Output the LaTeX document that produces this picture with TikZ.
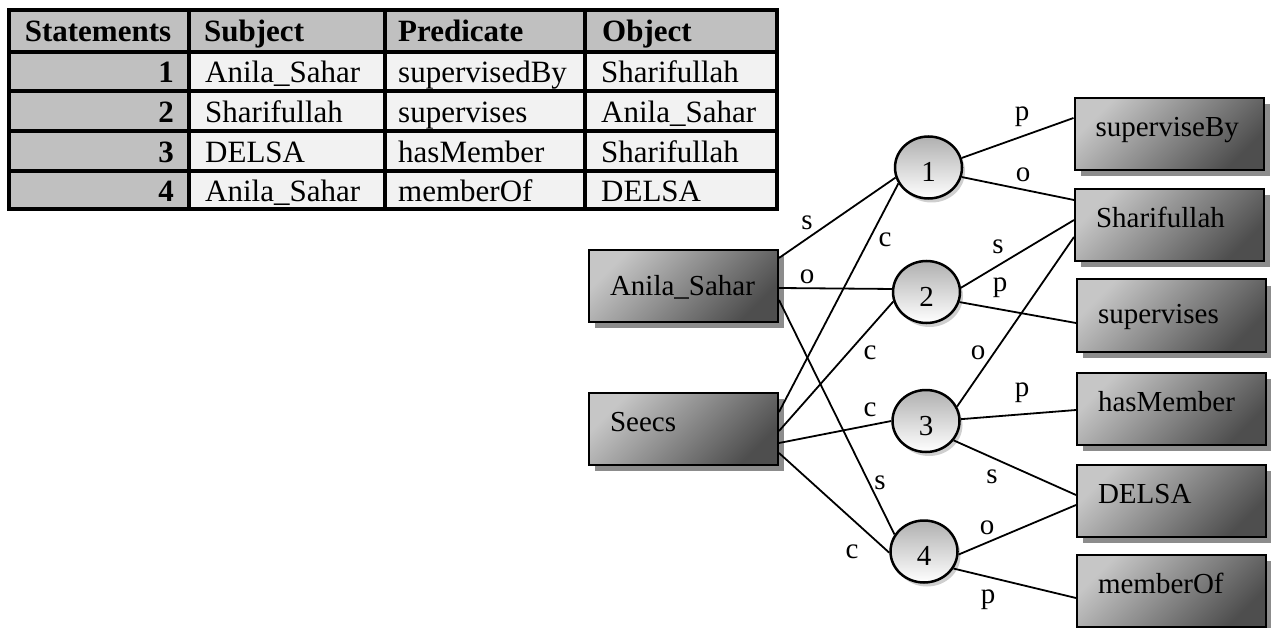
\documentclass[tikz,border=0pt]{standalone}
\usepackage{fontspec}
\setmainfont{Liberation Serif}
\usetikzlibrary{shapes.geometric,shadows}
\definecolor{hdrgray}{HTML}{C0C0C0}
\definecolor{cellgray}{HTML}{F2F2F2}
\definecolor{boxlight}{HTML}{C6C6C6}
\definecolor{boxdark}{HTML}{4E4E4E}
\definecolor{shadowgray}{HTML}{8C8C8C}
\definecolor{circtop}{HTML}{B0B0B0}
\definecolor{circshadow}{HTML}{CFCFCF}
\newcommand\tabfont{\fontsize{31}{37}\selectfont}
\newcommand\grfont{\fontsize{29}{35}\selectfont}
\begin{document}
\begin{tikzpicture}[x=1pt,y=-1pt,
 tabtext/.style={font=\tabfont, inner sep=0pt, anchor=base west},
 tabhead/.style={font=\tabfont\bfseries, inner sep=0pt, anchor=base west},
 tabnum/.style={font=\tabfont\bfseries, inner sep=0pt, anchor=base east},
 resbox/.style={draw=black, line width=2pt, font=\grfont, text width=147pt, align=left,
   inner xsep=21pt, inner ysep=0pt, minimum height=72pt, text height=18pt, text depth=14pt,
   top color=boxlight, bottom color=boxdark, shading angle=45,
   general shadow={fill=shadowgray, shadow xshift=6pt, shadow yshift=-6pt}},
 stmt/.style={ellipse, draw=black, line width=2.5pt, minimum width=67pt, minimum height=62pt,
   inner sep=0pt, font=\grfont, text height=28pt, text depth=0pt,
   top color=circtop, bottom color=white,
   general shadow={fill=circshadow, shadow xshift=3pt, shadow yshift=-4pt}},
 rel/.style={draw=black, line width=1.8pt},
 lbl/.style={font=\grfont, inner sep=0pt}
]
\useasboundingbox (0,0) rectangle (1271,628);
% ---------------- table ----------------
\fill[hdrgray] (9,10) rectangle (777,52);
\fill[hdrgray] (9,52) rectangle (189,209);
\fill[cellgray] (189,52) rectangle (777,209);
\draw[line width=4pt] (9,10) rectangle (777,209);
\foreach \yy in {52,91,131,171} \draw[line width=4pt] (9,\yy) -- (777,\yy);
\foreach \xx in {189,385,585} \draw[line width=4pt] (\xx,10) -- (\xx,209);

\node[tabhead, anchor=base] (hst) at (98,42) {Statements};
\node[tabhead] (hsu) at (204,42) {Subject};
\node[tabhead] (hpr) at (398,42) {Predicate};
\node[tabhead] (hob) at (602,42) {Object};

\node[tabnum] (n1) at (174,83) {1};
\node[tabtext] (s1) at (205,83) {Anila\_Sahar};
\node[tabtext] (p1) at (398,83) {supervisedBy};
\node[tabtext] (o1) at (601,83) {Sharifullah};

\node[tabnum] (n2) at (174,123) {2};
\node[tabtext] (s2) at (205,123) {Sharifullah};
\node[tabtext] (p2) at (398,123) {supervises};
\node[tabtext] (o2) at (601,123) {Anila\_Sahar};

\node[tabnum] (n3) at (174,163) {3};
\node[tabtext] (s3) at (205,163) {DELSA};
\node[tabtext] (p3) at (398,163) {hasMember};
\node[tabtext] (o3) at (601,163) {Sharifullah};

\node[tabnum] (n4) at (174,202) {4};
\node[tabtext] (s4) at (205,202) {Anila\_Sahar};
\node[tabtext] (p4) at (398,202) {memberOf};
\node[tabtext] (o4) at (601,202) {DELSA};

% ---------------- graph nodes ----------------
\node[resbox, text height=27pt, text depth=9pt] (anila) at (683.5,286) {Anila\_Sahar};
\node[resbox] (seecs) at (683.5,429) {Seecs};
\node[resbox] (supby) at (1169,134.5) {superviseBy};
\node[resbox] (shar) at (1169.5,225.5) {Sharifullah};
\node[resbox, text height=25pt, text depth=10pt] (sups) at (1171.5,315.5) {supervises};
\node[resbox] (hasm) at (1171.5,409) {hasMember};
\node[resbox] (delsa) at (1171.5,501) {DELSA};
\node[resbox] (memb) at (1171.5,591) {memberOf};

\node[stmt] (c1) at (928.5,167.5) {1};
\node[stmt] (c2) at (926.5,292) {2};
\node[stmt] (c3) at (926,421) {3};
\node[stmt] (c4) at (924,551.5) {4};

% ---------------- connectors ----------------
\draw[rel] ([yshift=28pt]anila.east) -- (c1.197);
\draw[rel] ([yshift=-2pt]anila.east) -- (c2.175);
\draw[rel] ([yshift=-14pt]anila.east) -- (c4.150);
\draw[rel] ([yshift=17pt]seecs.east) -- (c1.208);
\draw[rel] ([yshift=-2pt]seecs.east) -- (c2.196);
\draw[rel] ([yshift=-14pt]seecs.east) -- (c3.180);
\draw[rel] ([yshift=-24pt]seecs.east) -- (c4.182);
\draw[rel] (c1.16) -- ([yshift=16.5pt]supby.west);
\draw[rel] (c1.-16) -- ([yshift=25.5pt]shar.west);
\draw[rel] (c2.7) -- ([yshift=5.5pt]shar.west);
\draw[rel] (c2.-17) -- ([yshift=-7.5pt]sups.west);
\draw[rel] (c3.25) -- ([yshift=-11.5pt]shar.west);
\draw[rel] (c3.3) -- ([yshift=-1pt]hasm.west);
\draw[rel] (c3.-35) -- ([yshift=6pt]delsa.west);
\draw[rel] (c4.-5) -- ([yshift=-4pt]delsa.west);
\draw[rel] (c4.-30) -- ([yshift=-7pt]memb.west);

% ---------------- labels ----------------
\node[lbl] (la1) at (807,223) {s};
\node[lbl] (la2) at (807,277) {o};
\node[lbl] (la3) at (880,483) {s};
\node[lbl] (lc1) at (885,240) {c};
\node[lbl] (lc2) at (870,353) {c};
\node[lbl] (lc3) at (870,410) {c};
\node[lbl] (lc4) at (852,552) {c};
\node[lbl] (lp1) at (1022,117) {p};
\node[lbl] (lo1) at (1023,175) {o};
\node[lbl] (ls2) at (998,247) {s};
\node[lbl] (lp2) at (1000,288) {p};
\node[lbl] (lo3) at (978,353) {o};
\node[lbl] (lp3) at (1022,393) {p};
\node[lbl] (ls3) at (992,477) {s};
\node[lbl] (lo4) at (987,528) {o};
\node[lbl] (lp4) at (988,600) {p};
\end{tikzpicture}
\end{document}
